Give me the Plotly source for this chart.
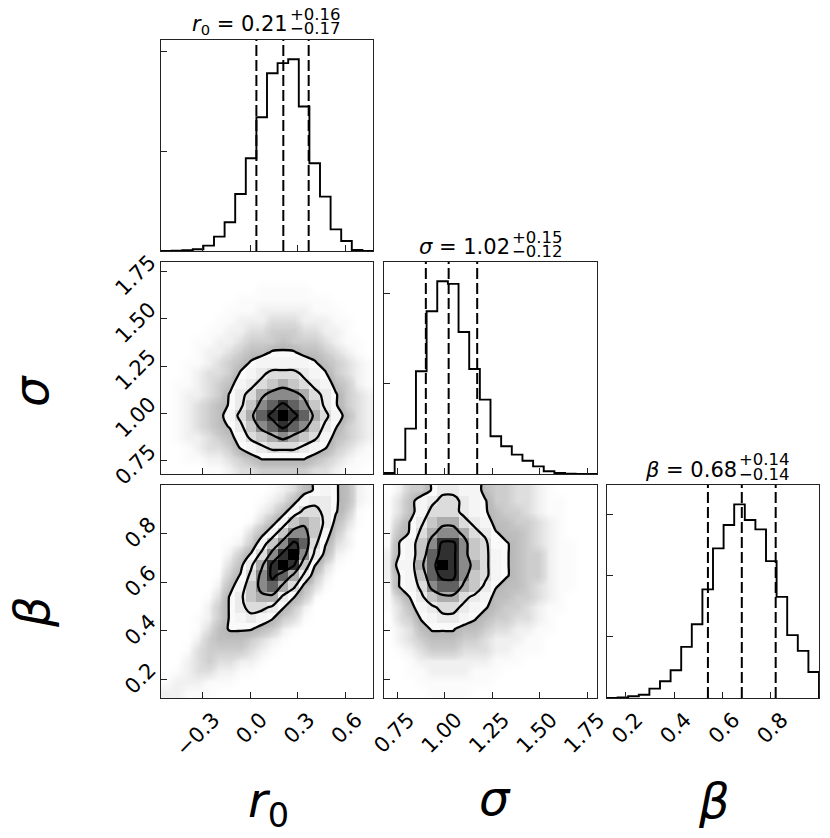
import numpy as np
import plotly.graph_objects as go

FIG_W, FIG_H = 830, 838
FONT = "DejaVu Sans"
FRAME = "#222222"

# ---------------- data ----------------
R0_RANGE = [-0.562, 0.776]
SIGMA_RANGE = [0.680, 1.800]
BETA_RANGE = [0.123, 0.999]
N_BINS = 20

R0_TICKS = [-0.3, 0.0, 0.3, 0.6]
SIGMA_TICKS = [0.75, 1.00, 1.25, 1.50, 1.75]
BETA_TICKS = [0.2, 0.4, 0.6, 0.8]

# 1D marginal histograms (counts per bin, 20 bins over the axis range)
R0_COUNTS = [1, 3, 7, 17, 54, 144, 288, 572, 930, 1341, 1782, 1883, 1923, 1448, 879, 545, 217, 100, 10, 1]
SIGMA_COUNTS = [11, 159, 504, 1141, 1808, 2141, 2112, 1578, 1167, 826, 419, 308, 215, 148, 85, 30, 11, 4, 1, 0]
BETA_COUNTS = [1, 5, 14, 27, 77, 137, 227, 419, 605, 890, 1226, 1418, 1587, 1459, 1382, 1122, 829, 515, 386, 213]

# 16th / 50th / 84th percentiles
R0_QUANTILES = [0.04, 0.21, 0.37]
SIGMA_QUANTILES = [0.90, 1.02, 1.17]
BETA_QUANTILES = [0.54, 0.68, 0.82]

HIST_TICK_STEP = [1000, 1000, 500]

R0_TITLE = ["<i>r</i><sub>0</sub> = 0.21", "+0.16", "\u22120.17"]
SIGMA_TITLE = ["<i>\u03c3</i> = 1.02", "+0.15", "\u22120.12"]
BETA_TITLE = ["<i>\u03b2</i> = 0.68", "+0.14", "\u22120.14"]

AXIS_LABELS = ["<i>r</i><sub>0</sub>", "<i>\u03c3</i>", "<i>\u03b2</i>"]

# 2D density (fraction of the peak), 20x20 bins, one hex code per bin,
# rows listed from the top of the panel down to the bottom
LEVEL_VALUES = [0.0, 0.003, 0.01, 0.025, 0.05, 0.09, 0.14, 0.20,
                0.28, 0.37, 0.47, 0.57, 0.68, 0.79, 0.90, 1.00]

DENS_SIGMA_R0 = [
    "00000000000000000000",
    "00000000000000000000",
    "00000000011111000000",
    "00000001111111110000",
    "00000011122222111000",
    "00000112223332221100",
    "00001122334443322100",
    "00011223444544432110",
    "00012234556665543210",
    "00112345677777654321",
    "00123346789998764321",
    "0112345789ABA9875421",
    "012234689BCCCB986432",
    "01234568ACDEDCA86432",
    "01234579BDEFEDB97532",
    "01234568ACDEDCA86432",
    "012234579ABCBA975432",
    "00123346789998764321",
    "00112234566666543211",
    "00001123344444332110",
]

DENS_BETA_R0 = [
    "00000000001235676521",
    "00000000012357886521",
    "00000000023579986410",
    "000000001357ABA85310",
    "00000001357ACCA74200",
    "0000001247ACED963200",
    "0000002469CEFC852100",
    "000000358BEFEA631000",
    "000001469CEDB8420000",
    "00000257ACDB95310000",
    "00001368ABB864100000",
    "00002468998642000000",
    "00012467876431000000",
    "00013566654210000000",
    "00024555432100000000",
    "00134444321000000000",
    "00234332210000000000",
    "01233221100000000000",
    "12221110000000000000",
    "22111000000000000000",
]

DENS_BETA_SIGMA = [
    "02446887754433210000",
    "13578998764433211000",
    "13579998765443211000",
    "1468ABB9875544321000",
    "1569BCCB986554321000",
    "167ACEECA96654321100",
    "267ADEECA97654421100",
    "277BDFECB97654421100",
    "267ADEECA97654421100",
    "1679CDDBA86554321100",
    "1468ABB9875544321000",
    "13578998765443211000",
    "03467887654433210000",
    "02356665543322110000",
    "02345554432221100000",
    "01234443332211100000",
    "00122222221110000000",
    "00112222111000000000",
    "00011111110000000000",
    "00001111000000000000",
]

CONTOUR_LEVELS = [0.13, 0.32, 0.61, 0.86]

# ---------------- layout geometry (pixels) ----------------
COL_PX = [(161, 373), (384, 597), (607, 819)]
ROW_PX = [(40, 251), (262, 474), (485, 698)]

VARS = [
    dict(range=R0_RANGE, ticks=R0_TICKS, fmt=".1f", counts=R0_COUNTS,
         q=R0_QUANTILES, step=HIST_TICK_STEP[0], title=R0_TITLE),
    dict(range=SIGMA_RANGE, ticks=SIGMA_TICKS, fmt=".2f", counts=SIGMA_COUNTS,
         q=SIGMA_QUANTILES, step=HIST_TICK_STEP[1], title=SIGMA_TITLE),
    dict(range=BETA_RANGE, ticks=BETA_TICKS, fmt=".1f", counts=BETA_COUNTS,
         q=BETA_QUANTILES, step=HIST_TICK_STEP[2], title=BETA_TITLE),
]

PANEL_AX = {(0, 0): 1, (1, 0): 2, (1, 1): 3, (2, 0): 4, (2, 1): 5, (2, 2): 6}
OVER_AX = {(1, 0): 7, (2, 0): 8, (2, 1): 9}
DENSITY = {(1, 0): DENS_SIGMA_R0, (2, 0): DENS_BETA_R0, (2, 1): DENS_BETA_SIGMA}

CLOUD_SCALE = [
    [0.0, "rgb(255,255,255)"],
    [0.0214, "rgb(251,251,251)"],
    [0.0714, "rgb(240,240,240)"],
    [0.179, "rgb(222,222,222)"],
    [0.357, "rgb(204,204,204)"],
    [0.643, "rgb(186,186,186)"],
    [1.0, "rgb(174,174,174)"],
]
DENSITY_SCALE = [[0.0, "rgba(255,255,255,0)"], [1.0, "rgba(0,0,0,1)"]]


def xname(n):
    return "x" if n == 1 else f"x{n}"


def yname(n):
    return "y" if n == 1 else f"y{n}"


def xdom(c):
    a, b = COL_PX[c]
    return [a / FIG_W, b / FIG_W]


def ydom(r):
    a, b = ROW_PX[r]
    return [1 - b / FIG_H, 1 - a / FIG_H]


def bin_edges(rng):
    return np.linspace(rng[0], rng[1], N_BINS + 1)


def bin_centers(rng):
    e = bin_edges(rng)
    return 0.5 * (e[:-1] + e[1:])


def decode(rows):
    return np.array([[LEVEL_VALUES[int(ch, 16)] for ch in row] for row in rows[::-1]])


fig = go.Figure()

for (r, c), n in PANEL_AX.items():
    xa, ya = xname(n), yname(n)
    if r == c:
        v = VARS[c]
        e = bin_edges(v["range"])
        counts = list(v["counts"])
        sx = [e[0]] + list(e[:-1]) + [e[-1], e[-1]]
        sy = [0] + counts + [counts[-1], 0]
        ytop = 1.1 * max(counts)
        fig.add_trace(go.Scatter(x=sx, y=sy, mode="lines",
                                 line=dict(color="black", width=1.9, shape="hv"),
                                 xaxis=xa, yaxis=ya, hoverinfo="skip"))
        for q in v["q"]:
            fig.add_trace(go.Scatter(x=[q, q], y=[0, ytop], mode="lines",
                                     line=dict(color="black", width=2, dash="11px,4px"),
                                     xaxis=xa, yaxis=ya, hoverinfo="skip"))
    else:
        z = decode(DENSITY[(r, c)])
        xr, yr = VARS[c]["range"], VARS[r]["range"]
        xc, yc = bin_centers(xr), bin_centers(yr)
        xp = np.concatenate([[xr[0]], xc, [xr[1]]])
        yp = np.concatenate([[yr[0]], yc, [yr[1]]])
        zp = np.pad(z, 1, mode="edge")
        # scattered samples, shown as a soft cloud
        fig.add_trace(go.Heatmap(x=xc, y=yc, z=z, zsmooth="best", colorscale=CLOUD_SCALE,
                                 zmin=0, zmax=0.14, showscale=False, hoverinfo="skip",
                                 xaxis=xa, yaxis=ya))
        # white area inside the outermost contour ("keep" z < level, shade the rest)
        fig.add_trace(go.Contour(x=xp, y=yp, z=zp,
                                 contours=dict(type="constraint", operation="<",
                                               value=CONTOUR_LEVELS[0]),
                                 fillcolor="white",
                                 line=dict(width=0, color="white", smoothing=0.8),
                                 showscale=False, hoverinfo="skip", xaxis=xa, yaxis=ya))
        m = OVER_AX[(r, c)]
        xo, yo = xname(m), yname(m)
        fig.add_trace(go.Heatmap(x=xc, y=yc, z=z, zsmooth=False, colorscale=DENSITY_SCALE,
                                 zmin=0, zmax=1, showscale=False, hoverinfo="skip",
                                 xaxis=xo, yaxis=yo))
        for lev in CONTOUR_LEVELS:
            fig.add_trace(go.Contour(x=xp, y=yp, z=zp, autocontour=False,
                                     contours=dict(start=lev, end=lev, size=1, coloring="none"),
                                     line=dict(color="black", width=2.3, smoothing=0.8),
                                     showscale=False, hoverinfo="skip", xaxis=xo, yaxis=yo))

base_axis = dict(showline=True, mirror=True, linecolor=FRAME, linewidth=1.2,
                 ticks="inside", ticklen=6, tickwidth=1.2, tickcolor=FRAME,
                 showgrid=False, zeroline=False, tickangle=-45, automargin=False,
                 tickfont=dict(family=FONT, size=21, color="black"))

layout_axes = {}
for (r, c), n in PANEL_AX.items():
    xkey = "xaxis" if n == 1 else f"xaxis{n}"
    ykey = "yaxis" if n == 1 else f"yaxis{n}"
    vx = VARS[c]
    layout_axes[xkey] = dict(base_axis, domain=xdom(c), range=vx["range"], anchor=yname(n),
                             tickmode="array", tickvals=vx["ticks"], tickformat=vx["fmt"],
                             showticklabels=(r == 2), ticklabelshift=11, ticklabelstandoff=0)
    if r == c:
        layout_axes[ykey] = dict(base_axis, domain=ydom(r), range=[0, 1.1 * max(vx["counts"])],
                                 anchor=xname(n), tick0=0, dtick=vx["step"],
                                 showticklabels=False)
    else:
        vy = VARS[r]
        layout_axes[ykey] = dict(base_axis, domain=ydom(r), range=vy["range"], anchor=xname(n),
                                 tickmode="array", tickvals=vy["ticks"], tickformat=vy["fmt"],
                                 showticklabels=(c == 0), ticklabelshift=-12,
                                 ticklabelstandoff=6)

for (r, c), m in OVER_AX.items():
    n = PANEL_AX[(r, c)]
    layout_axes[f"xaxis{m}"] = dict(overlaying=xname(n), range=VARS[c]["range"],
                                    anchor=yname(m), visible=False, automargin=False)
    layout_axes[f"yaxis{m}"] = dict(overlaying=yname(n), range=VARS[r]["range"],
                                    anchor=xname(m), visible=False, automargin=False)

annotations = []
TITLE_JOIN = [22, 20, 25]
for k, v in enumerate(VARS):
    cx = 0.5 * (COL_PX[k][0] + COL_PX[k][1])
    top = ROW_PX[k][0]
    jx = cx + TITLE_JOIN[k]
    main, sup, sub = v["title"]
    annotations.append(dict(text=main, x=(jx + 1) / FIG_W, y=1 - (top - 15) / FIG_H,
                            xref="paper", yref="paper", xanchor="right", yanchor="middle",
                            showarrow=False, font=dict(family=FONT, size=21, color="black")))
    annotations.append(dict(text=sup, x=(jx - 1) / FIG_W, y=1 - (top - 25) / FIG_H,
                            xref="paper", yref="paper", xanchor="left", yanchor="middle",
                            showarrow=False, font=dict(family=FONT, size=16.5, color="black")))
    annotations.append(dict(text=sub, x=(jx - 1) / FIG_W, y=1 - (top - 11) / FIG_H,
                            xref="paper", yref="paper", xanchor="left", yanchor="middle",
                            showarrow=False, font=dict(family=FONT, size=16.5, color="black")))

BOTTOM_LABEL_PX = [(268, 803), (495, 798), (714, 801)]
LEFT_LABEL_PX = {1: (31, 391), 2: (32, 612)}
for k in range(3):
    px, py = BOTTOM_LABEL_PX[k]
    annotations.append(dict(text=AXIS_LABELS[k], x=px / FIG_W, y=1 - py / FIG_H,
                            xref="paper", yref="paper", xanchor="center", yanchor="middle",
                            showarrow=False, font=dict(family=FONT, size=48, color="black")))
for k, (px, py) in LEFT_LABEL_PX.items():
    annotations.append(dict(text=AXIS_LABELS[k], x=px / FIG_W, y=1 - py / FIG_H,
                            xref="paper", yref="paper", xanchor="center", yanchor="middle",
                            textangle=-90, showarrow=False,
                            font=dict(family=FONT, size=48, color="black")))

fig.update_layout(template="none", width=FIG_W, height=FIG_H,
                  margin=dict(l=0, r=0, t=0, b=0, pad=0),
                  paper_bgcolor="white", plot_bgcolor="white", showlegend=False,
                  font=dict(family=FONT, color="black"), annotations=annotations,
                  **layout_axes)

fig.write_html("out.html", config={"displayModeBar": False},
               post_script="document.body.style.margin='0px';"
                           "document.body.style.overflow='hidden';")
